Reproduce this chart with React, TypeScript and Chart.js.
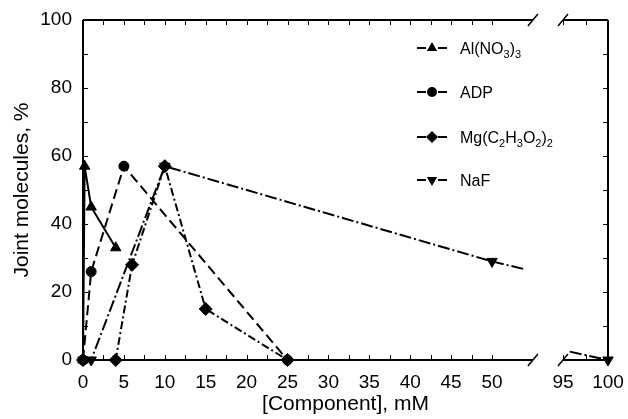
import React, { useEffect, useRef } from "react";
import { Chart, registerables } from "chart.js";

Chart.register(...registerables);

// ---------- data ----------
const seriesNames = ["Al(NO3)3", "ADP", "Mg(C2H3O2)2", "NaF"];
const alX = [0, 0.2, 1, 4];
const alY = [0, 57, 45, 33];
const adpX = [0, 1, 5, 25];
const adpY = [0, 26, 57, 0];
const mgX = [0, 4, 6, 10, 15, 25];
const mgY = [0, 0, 28, 57, 15, 0];
const nafX = [0, 1, 10, 50, 100];
const nafY = [0, 0, 57, 29, 0];

const xTickLabels = [0, 5, 10, 15, 20, 25, 30, 35, 40, 45, 50, 95, 100];
const xTickMarks = [
  0, 2.5, 5, 7.5, 10, 12.5, 15, 17.5, 20, 22.5, 25, 27.5, 30, 32.5, 35, 37.5, 40,
  42.5, 45, 47.5, 50, 95, 97.5, 100,
];
const yTickLabels = [0, 20, 40, 60, 80, 100];
const yTickMarks = [0, 10, 20, 30, 40, 50, 60, 70, 80, 90, 100];

// ---------- broken-axis mapping ----------
const GAP_FROM = 55;
const GAP_TO = 95;
const RIGHT_D0 = 58.68;
const RIGHT_K = 1.1;
const DMAX = 64.18;
const CLIP_LO = 53.8;
const CLIP_HI = 95.75;
const toDisplay = (v: number) => (v <= GAP_FROM ? v : RIGHT_D0 + (v - GAP_TO) * RIGHT_K);

const FONT = "'Liberation Sans', Arial, Helvetica, sans-serif";

const styles = [
  { pointStyle: "triangle", radius: 6, rotation: 0, dash: [] as number[] },
  { pointStyle: "circle", radius: 5, rotation: 0, dash: [10, 5] },
  { pointStyle: "rectRot", radius: 6.5, rotation: 0, dash: [8, 3, 2, 3] },
  { pointStyle: "triangle", radius: 6, rotation: 180, dash: [12, 3, 2, 3] },
];

const allX = [alX, adpX, mgX, nafX];
const allY = [alY, adpY, mgY, nafY];

function drawMarker(ctx: CanvasRenderingContext2D, kind: number, x: number, y: number) {
  ctx.beginPath();
  if (kind === 0 || kind === 3) {
    const r = 6;
    const s = kind === 0 ? 1 : -1;
    ctx.moveTo(x, y - s * r);
    ctx.lineTo(x + r * 0.866, y + s * r * 0.5);
    ctx.lineTo(x - r * 0.866, y + s * r * 0.5);
    ctx.closePath();
  } else if (kind === 1) {
    ctx.arc(x, y, 5, 0, Math.PI * 2);
  } else {
    const r = 6;
    ctx.moveTo(x, y - r);
    ctx.lineTo(x + r, y);
    ctx.lineTo(x, y + r);
    ctx.lineTo(x - r, y);
    ctx.closePath();
  }
  ctx.fill();
}

function drawFormula(ctx: CanvasRenderingContext2D, text: string, x: number, baseline: number) {
  let cx = x;
  for (let i = 0; i < text.length; i++) {
    const ch = text[i];
    const isSub = /[0-9]/.test(ch) && i > 0 && /[A-Za-z)0-9]/.test(text[i - 1]);
    ctx.font = isSub ? `11px ${FONT}` : `16px ${FONT}`;
    ctx.fillText(ch, cx, isSub ? baseline + 4 : baseline);
    cx += ctx.measureText(ch).width;
  }
}

const framePlugin = {
  id: "brokenFrame",
  beforeDatasetsDraw(chart: any) {
    const { ctx, chartArea, scales } = chart;
    const { left, right, top, bottom } = chartArea;
    const xs = scales.x;
    const ys = scales.y;
    const bx0 = xs.getPixelForValue(toDisplay(GAP_FROM));
    const bx1 = xs.getPixelForValue(toDisplay(GAP_TO));
    ctx.save();
    ctx.strokeStyle = "#000";
    ctx.setLineDash([]);
    ctx.lineWidth = 2;
    ctx.beginPath();
    ctx.moveTo(left, top);
    ctx.lineTo(left, bottom);
    ctx.moveTo(right, top);
    ctx.lineTo(right, bottom);
    for (const yy of [top, bottom]) {
      ctx.moveTo(left, yy);
      ctx.lineTo(bx0, yy);
      ctx.moveTo(bx1, yy);
      ctx.lineTo(right, yy);
    }
    ctx.stroke();
    ctx.lineWidth = 1.5;
    ctx.beginPath();
    for (const yy of [top, bottom]) {
      for (const bx of [bx0, bx1]) {
        ctx.moveTo(bx - 5, yy + 6);
        ctx.lineTo(bx + 5, yy - 6);
      }
    }
    ctx.stroke();
    ctx.lineWidth = 1;
    ctx.beginPath();
    for (const v of xTickMarks) {
      const px = Math.round(xs.getPixelForValue(toDisplay(v))) + 0.5;
      ctx.moveTo(px, bottom);
      ctx.lineTo(px, bottom - 5);
      ctx.moveTo(px, top);
      ctx.lineTo(px, top + 5);
    }
    for (const v of yTickMarks) {
      const py = Math.round(ys.getPixelForValue(v)) + 0.5;
      ctx.moveTo(left, py);
      ctx.lineTo(left + 5, py);
      ctx.moveTo(right, py);
      ctx.lineTo(right - 5, py);
    }
    ctx.stroke();
    ctx.restore();
  },
  afterDatasetsDraw(chart: any) {
    const { ctx, scales } = chart;
    const xs = scales.x;
    const ys = scales.y;
    const px = (v: number) => xs.getPixelForValue(toDisplay(v));
    const py = (v: number) => ys.getPixelForValue(v);
    // series whose segment crosses the axis break: draw the visible parts
    ctx.save();
    ctx.strokeStyle = "#000";
    ctx.lineWidth = 2;
    allX.forEach((xsArr, k) => {
      const yArr = allY[k];
      for (let i = 0; i + 1 < xsArr.length; i++) {
        const x0 = xsArr[i], x1 = xsArr[i + 1];
        if (x0 <= GAP_FROM && x1 >= GAP_TO) {
          const y0 = yArr[i], y1 = yArr[i + 1];
          const f = (xv: number) => y0 + ((y1 - y0) * (xv - x0)) / (x1 - x0);
          ctx.setLineDash(styles[k].dash);
          ctx.beginPath();
          ctx.moveTo(px(x0), py(y0));
          ctx.lineTo(px(CLIP_LO), py(f(CLIP_LO)));
          ctx.stroke();
          ctx.beginPath();
          ctx.moveTo(px(CLIP_HI), py(f(CLIP_HI)));
          ctx.lineTo(px(x1), py(y1));
          ctx.stroke();
        }
      }
    });
    ctx.restore();
  },
  afterDraw(chart: any) {
    const { ctx } = chart;
    const legendY = [48, 92, 137, 180];
    ctx.save();
    ctx.fillStyle = "#000";
    ctx.strokeStyle = "#000";
    ctx.lineWidth = 2;
    ctx.setLineDash([]);
    seriesNames.forEach((name, k) => {
      const cy = legendY[k];
      ctx.beginPath();
      ctx.moveTo(417, cy);
      ctx.lineTo(426, cy);
      ctx.moveTo(438, cy);
      ctx.lineTo(447, cy);
      ctx.stroke();
      drawMarker(ctx, k, 432, cy);
      ctx.textAlign = "left";
      ctx.textBaseline = "alphabetic";
      drawFormula(ctx, name, 460, cy + 5.8);
    });
    ctx.restore();
  },
};

export default function App() {
  const canvasRef = useRef<HTMLCanvasElement | null>(null);

  useEffect(() => {
    const canvas = canvasRef.current;
    if (!canvas) return;
    const datasets = seriesNames.map((name, k) => ({
      label: name,
      data: allX[k].map((x, i) => ({ x: toDisplay(x), y: allY[k][i] })),
      order: seriesNames.length - 1 - k,
      borderColor: "#000",
      backgroundColor: "#000",
      borderWidth: 2,
      borderDash: styles[k].dash,
      pointStyle: styles[k].pointStyle as any,
      pointRadius: styles[k].radius,
      pointRotation: styles[k].rotation,
      pointBorderWidth: 1,
      pointBackgroundColor: "#000",
      pointBorderColor: "#000",
      tension: 0,
      clip: false as any,
      segment: {
        borderColor: (c: any) =>
          c.p0.parsed.x <= GAP_FROM && c.p1.parsed.x >= RIGHT_D0 ? "rgba(0,0,0,0)" : undefined,
      },
    }));

    const chart = new Chart(canvas, {
      type: "line",
      data: { datasets },
      options: {
        responsive: false,
        animation: false,
        events: [],
        layout: { padding: { top: 20, right: 20, left: 0, bottom: 0 } },
        plugins: { legend: { display: false }, tooltip: { enabled: false } },
        scales: {
          x: {
            type: "linear",
            min: 0,
            max: DMAX,
            grid: { display: false, drawTicks: false },
            border: { display: false },
            afterBuildTicks: (s: any) => {
              s.ticks = xTickLabels.map((v) => ({ value: toDisplay(v) }));
            },
            afterFit: (s: any) => {
              s.height = 59;
              s.paddingLeft = 0;
              s.paddingRight = 0;
            },
            ticks: {
              autoSkip: false,
              maxRotation: 0,
              minRotation: 0,
              padding: 11,
              color: "#000",
              font: { family: FONT, size: 19 },
              callback: (_v: any, i: number) => String(xTickLabels[i]),
            },
            title: {
              display: true,
              text: "[Component], mM",
              color: "#000",
              font: { family: FONT, size: 21 },
              padding: { top: 0, bottom: 2 },
            },
          },
          y: {
            type: "linear",
            min: 0,
            max: 100,
            grid: { display: false, drawTicks: false },
            border: { display: false },
            afterBuildTicks: (s: any) => {
              s.ticks = yTickLabels.map((v) => ({ value: v }));
            },
            afterFit: (s: any) => {
              s.width = 83;
              s.paddingTop = 0;
              s.paddingBottom = 0;
            },
            ticks: {
              padding: 11,
              color: "#000",
              font: { family: FONT, size: 19 },
              callback: (v: any) => String(v),
            },
            title: {
              display: true,
              text: "Joint molecules, %",
              color: "#000",
              font: { family: FONT, size: 21 },
              padding: { top: 10, bottom: 0 },
            },
          },
        },
      },
      plugins: [framePlugin],
    });
    return () => chart.destroy();
  }, []);

  return (
    <div style={{ position: "absolute", left: 0, top: 0, width: 628, height: 419, background: "#fff" }}>
      <canvas ref={canvasRef} width={628} height={419} style={{ display: "block" }} />
    </div>
  );
}
